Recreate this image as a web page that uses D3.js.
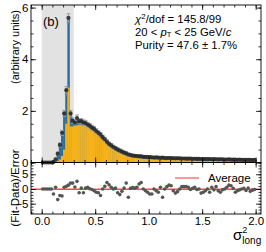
<!DOCTYPE html>
<html>
<head>
<meta charset="utf-8">
<script src="https://cdn.jsdelivr.net/npm/d3@7"></script>
<style>
  body { margin: 0; background: #fff; }
  svg { display: block; font-family: "Liberation Sans", Arial, sans-serif; }
</style>
</head>
<body>
<div id="chart"></div>
<script>
//Bins of sigma^2_long, 0.02 wide between 0 and 2.
const binWidth = 0.02;
const binCentres = d3.range(100).map(i => +(0.01 + i * binWidth).toFixed(2));

//Data points (arbitrary units) and their errors.
const dataVals = [0, 0, 0, 0, 0, 0.02, 0.12, 0.34, 0.68, 1.15,
  1.9, 2.8, 5.6, 1.9, 1.62, 1.55, 1.72, 1.6, 1.6, 1.55,
  1.53, 1.47, 1.42, 1.35, 1.3, 1.22, 1.15, 1.08, 0.98, 0.9,
  0.8, 0.72, 0.66, 0.6, 0.55, 0.5, 0.46, 0.42, 0.38, 0.35,
  0.31, 0.29, 0.27, 0.26, 0.25, 0.24, 0.235, 0.22, 0.215, 0.21,
  0.205, 0.2, 0.19, 0.195, 0.185, 0.18, 0.185, 0.175, 0.17, 0.175,
  0.17, 0.165, 0.16, 0.165, 0.16, 0.155, 0.155, 0.15, 0.15, 0.155,
  0.145, 0.145, 0.14, 0.14, 0.135, 0.135, 0.13, 0.13, 0.135, 0.125,
  0.13, 0.125, 0.12, 0.125, 0.12, 0.115, 0.115, 0.12, 0.11, 0.11,
  0.115, 0.105, 0.11, 0.105, 0.1, 0.105, 0.1, 0.1, 0.095, 0.1];
const dataErr = [0, 0, 0, 0, 0, 0.02, 0.04, 0.06, 0.08, 0.1,
  0.12, 0.14, 0.16, 0.12, 0.11, 0.1, 0.12, 0.1, 0.1, 0.1,
  0.1, 0.09, 0.09, 0.09, 0.09, 0.09, 0.08, 0.08, 0.08, 0.08,
  0.08, 0.07, 0.07, 0.07, 0.07, 0.07, 0.06, 0.06, 0.06, 0.06,
  0.06, 0.05, 0.05, 0.05, 0.05, 0.05, 0.05, 0.05, 0.05, 0.05,
  0.05, 0.04, 0.04, 0.04, 0.04, 0.04, 0.04, 0.04, 0.04, 0.04,
  0.04, 0.04, 0.04, 0.04, 0.04, 0.04, 0.04, 0.04, 0.04, 0.04,
  0.04, 0.04, 0.04, 0.04, 0.04, 0.04, 0.04, 0.04, 0.04, 0.04,
  0.04, 0.04, 0.04, 0.04, 0.04, 0.04, 0.04, 0.04, 0.04, 0.04,
  0.04, 0.04, 0.04, 0.04, 0.04, 0.04, 0.04, 0.04, 0.04, 0.04];

//Total fit (blue) and background component (yellow).
const fitTotal = [0, 0, 0, 0, 0, 0, 0.13, 0.3, 0.62, 1.1,
  1.95, 2.85, 5.55, 1.95, 1.68, 1.6, 1.65, 1.62, 1.6, 1.57,
  1.54, 1.49, 1.43, 1.36, 1.3, 1.22, 1.14, 1.06, 0.98, 0.9,
  0.82, 0.74, 0.67, 0.61, 0.56, 0.51, 0.46, 0.42, 0.39, 0.35,
  0.32, 0.295, 0.275, 0.26, 0.25, 0.24, 0.23, 0.222, 0.215, 0.208,
  0.2, 0.196, 0.192, 0.188, 0.184, 0.18, 0.177, 0.174, 0.171, 0.168,
  0.165, 0.162, 0.16, 0.158, 0.155, 0.153, 0.15, 0.148, 0.146, 0.144,
  0.142, 0.14, 0.138, 0.136, 0.134, 0.132, 0.13, 0.128, 0.126, 0.124,
  0.122, 0.12, 0.119, 0.118, 0.116, 0.115, 0.114, 0.113, 0.111, 0.11,
  0.109, 0.108, 0.107, 0.106, 0.105, 0.104, 0.103, 0.102, 0.101, 0.1];
const background = [0, 0, 0, 0, 0, 0, 0.03, 0.06, 0.12, 0.25,
  0.5, 1.5, 2.9, 1.4, 1.4, 1.42, 1.44, 1.45, 1.45, 1.44,
  1.42, 1.38, 1.33, 1.27, 1.21, 1.14, 1.07, 0.99, 0.92, 0.84,
  0.77, 0.7, 0.63, 0.58, 0.53, 0.48, 0.44, 0.4, 0.37, 0.33,
  0.3, 0.28, 0.26, 0.245, 0.235, 0.225, 0.215, 0.207, 0.2, 0.193,
  0.186, 0.18, 0.176, 0.172, 0.168, 0.164, 0.16, 0.157, 0.154, 0.151,
  0.148, 0.145, 0.142, 0.14, 0.138, 0.135, 0.133, 0.13, 0.128, 0.126,
  0.124, 0.122, 0.12, 0.118, 0.116, 0.114, 0.112, 0.11, 0.108, 0.106,
  0.104, 0.102, 0.1, 0.099, 0.098, 0.096, 0.095, 0.094, 0.093, 0.091,
  0.09, 0.089, 0.088, 0.087, 0.086, 0.085, 0.084, 0.083, 0.082, 0.081];

//(Fit-Data)/Error in every bin.
const residual = [0, 0, 0, 0, 0, -1.7, 0.6, -3.6, -2.2, -2.4,
  0.6, 0.9, 1.3, 2.0, 2.0, 0.7, 2.6, -1.3, 0.3, -1.3,
  0.3, 0.6, 0.1, -0.2, -0.6, -1.1, -1.3, -2.2, 0, 0.9,
  2.2, 1.4, 0.6, 0, 0.3, -1.3, -1.9, -0.8, 0.3, 2.0,
  -2.8, 0.2, 0.5, 0.3, 0.6, 1.7, 2.2, 0, -0.6, -1.1,
  -1.7, -1.7, 0, -0.6, -1.1, 0.6, -2.8, 0, 0.8, 1.3,
  1.1, -0.6, -1.4, -0.9, 0, 0.8, 0.8, 0.8, 0.6, -0.2,
  0.2, 0.6, -0.2, 0, -1.4, -1.1, -0.6, 0, -1.1, 0.6,
  -0.3, 0.8, -0.6, -1.1, -0.3, 0, 0.6, 1.3, 1.1, 0.2,
  -1.1, -0.6, -0.3, 0, 0.2, -0.5, 0.3, -0.8, -0.4, -0.2];
const averageResidual = -0.1;

//Tick values and text.
const xTicks = [0, 0.5, 1, 1.5, 2];
const yTicksTop = [0, 2, 4, 6];
const yTicksRes = [-5, 0, 5];
const rejectedRange = [0, 0.3];
const panelLabel = "(b)";

//Layout of the two panels.
const w = 266, h = 252;
const padLeft = 31, padRight = 261;
const padTop = 5, split = 162.5, padBottom = 214;

const svg = d3.select("#chart")
  .append("svg")
  .attr("width", w)
  .attr("height", h);

//Scales.
const x = d3.scaleLinear().domain([-0.1, 2.05]).range([padLeft, padRight]);
const yTop = d3.scaleLinear().domain([0, 6.1]).range([split, padTop]);
const yRes = d3.scaleLinear().domain([-8.5, 9]).range([padBottom, split]);

const rows = binCentres.map((c, i) => ({
  c: c, val: dataVals[i], err: dataErr[i], fit: fitTotal[i],
  bkg: background[i], res: residual[i]
}));

//Grey band for the rejected region.
svg.append("rect")
  .attr("x", x(rejectedRange[0]))
  .attr("y", padTop)
  .attr("width", x(rejectedRange[1]) - x(rejectedRange[0]))
  .attr("height", split - padTop)
  .attr("fill", "#e2e2e2");

//Fit histogram (blue) with the background (yellow) in front.
svg.append("g").selectAll("rect")
  .data(rows)
  .enter()
  .append("rect")
  .attr("x", d => x(d.c - binWidth / 2))
  .attr("width", d => x(d.c + binWidth / 2) - x(d.c - binWidth / 2) + 0.3)
  .attr("y", d => yTop(d.fit))
  .attr("height", d => split - yTop(d.fit))
  .attr("fill", "#2f6e98");

svg.append("g").selectAll("rect")
  .data(rows)
  .enter()
  .append("rect")
  .attr("x", d => x(d.c - binWidth / 2))
  .attr("width", d => x(d.c + binWidth / 2) - x(d.c - binWidth / 2) + 0.2)
  .attr("y", d => yTop(d.bkg))
  .attr("height", d => split - yTop(d.bkg))
  .attr("fill", "#f6b21b");

//Error bars of the data.
const eb = svg.append("g")
  .attr("stroke", "#8f9ba6")
  .attr("stroke-width", 0.9);
rows.filter(d => d.err > 0).forEach(d => {
  const cx = x(d.c);
  eb.append("line").attr("x1", cx).attr("x2", cx)
    .attr("y1", yTop(d.val - d.err)).attr("y2", yTop(d.val + d.err));
  eb.append("line").attr("x1", cx - 2).attr("x2", cx + 2)
    .attr("y1", yTop(d.val + d.err)).attr("y2", yTop(d.val + d.err));
  eb.append("line").attr("x1", cx - 2).attr("x2", cx + 2)
    .attr("y1", yTop(d.val - d.err)).attr("y2", yTop(d.val - d.err));
});

//Data points.
svg.append("g").selectAll("circle")
  .data(rows)
  .enter()
  .append("circle")
  .attr("cx", d => x(d.c))
  .attr("cy", d => yTop(d.val))
  .attr("r", 2.1)
  .attr("fill", "#2b2b2b")
  .attr("fill-opacity", 0.9);

//Residual panel: average line and points.
svg.append("line")
  .attr("x1", padLeft).attr("x2", padRight)
  .attr("y1", yRes(averageResidual)).attr("y2", yRes(averageResidual))
  .attr("stroke", "#ff4a4a")
  .attr("stroke-width", 1.4);

svg.append("g").selectAll("circle")
  .data(rows)
  .enter()
  .append("circle")
  .attr("cx", d => x(d.c))
  .attr("cy", d => yRes(d.res))
  .attr("r", 1.8)
  .attr("fill", "#555");

//Legend of the residual panel.
svg.append("line")
  .attr("x1", 175).attr("x2", 199)
  .attr("y1", 178).attr("y2", 178)
  .attr("stroke", "#ff6b6b")
  .attr("stroke-width", 1.4);
svg.append("text")
  .attr("x", 208).attr("y", 182)
  .attr("font-size", 11.5)
  .text("Average");

//Helper to draw inward major and minor ticks.
function ticks(axisFn, scale, major, minorStep, transform, label) {
  const dom = scale.domain();
  const lo = Math.ceil(Math.min(...dom) / minorStep - 1e-6);
  const hi = Math.floor(Math.max(...dom) / minorStep + 1e-6);
  const minor = d3.range(lo, hi + 1).map(k => +(k * minorStep).toFixed(4));
  const gMinor = svg.append("g")
    .attr("transform", transform)
    .call(axisFn(scale).tickValues(minor).tickSize(-2.5).tickFormat(""));
  const gMajor = svg.append("g")
    .attr("transform", transform)
    .call(axisFn(scale).tickValues(major).tickSize(-5).tickPadding(2.5)
      .tickFormat(label ? label : ""));
  [gMinor, gMajor].forEach(g => {
    g.select(".domain").remove();
    g.selectAll("line").attr("stroke", "#000").attr("stroke-width", 0.8);
    g.selectAll("text").attr("font-size", 11.5).attr("fill", "#000")
      .attr("font-family", "Liberation Sans, Arial, sans-serif");
  });
}

const fmtX = d => d3.format(".1f")(d);
const fmtY = d => (d < 0 ? "\u2212" + Math.abs(d) : d);

//Top panel axes.
ticks(d3.axisLeft, yTop, yTicksTop, 0.5, "translate(" + padLeft + ",0)", fmtY);
ticks(d3.axisRight, yTop, yTicksTop, 0.5, "translate(" + padRight + ",0)", null);
ticks(d3.axisTop, x, xTicks, 0.1, "translate(0," + padTop + ")", null);
ticks(d3.axisBottom, x, xTicks, 0.1, "translate(0," + split + ")", null);

//Residual panel axes.
ticks(d3.axisLeft, yRes, yTicksRes, 1, "translate(" + padLeft + ",0)", fmtY);
ticks(d3.axisRight, yRes, yTicksRes, 1, "translate(" + padRight + ",0)", null);
ticks(d3.axisTop, x, xTicks, 0.1, "translate(0," + split + ")", null);
ticks(d3.axisBottom, x, xTicks, 0.1, "translate(0," + padBottom + ")", fmtX);

//Panel frames.
[[padTop, split], [split, padBottom]].forEach(p => {
  svg.append("rect")
    .attr("x", padLeft).attr("y", p[0])
    .attr("width", padRight - padLeft).attr("height", p[1] - p[0])
    .attr("fill", "none")
    .attr("stroke", "#000")
    .attr("stroke-width", 0.9);
});

//Axis titles.
svg.append("text")
  .attr("transform", "translate(19,47) rotate(-90)")
  .attr("text-anchor", "middle")
  .attr("font-size", 11)
  .text("(arbitrary units)");

svg.append("text")
  .attr("transform", "translate(19,188) rotate(-90)")
  .attr("text-anchor", "middle")
  .attr("font-size", 11.5)
  .text("(Fit-Data)/Error");

const xl = svg.append("text")
  .attr("x", 233).attr("y", 240)
  .attr("font-size", 15);
xl.append("tspan").text("\u03c3");
xl.append("tspan").attr("dy", -7).attr("font-size", 9).text("2");
xl.append("tspan").attr("dx", -5).attr("dy", 11).attr("font-size", 10).text("long");

//Panel label and fit information.
svg.append("text")
  .attr("x", 43).attr("y", 26)
  .attr("font-size", 13)
  .text(panelLabel);

const l1 = svg.append("text").attr("x", 135).attr("y", 23).attr("font-size", 11.3);
l1.append("tspan").attr("font-style", "italic").text("\u03c7");
l1.append("tspan").attr("dy", -4.5).attr("font-size", 8).text("2");
l1.append("tspan").attr("dy", 4.5).text("/dof = 145.8/99");

const l2 = svg.append("text").attr("x", 135).attr("y", 36).attr("font-size", 11.3);
l2.append("tspan").text("20 < ");
l2.append("tspan").attr("font-style", "italic").text("p");
l2.append("tspan").attr("dy", 1.4).attr("font-size", 7.5).text("T");
l2.append("tspan").attr("dy", -1.4).text(" < 25 GeV/");
l2.append("tspan").attr("font-style", "italic").text("c");

svg.append("text").attr("x", 135).attr("y", 49).attr("font-size", 11.3)
  .text("Purity = 47.6 \u00b1 1.7%");
</script>
</body>
</html>
